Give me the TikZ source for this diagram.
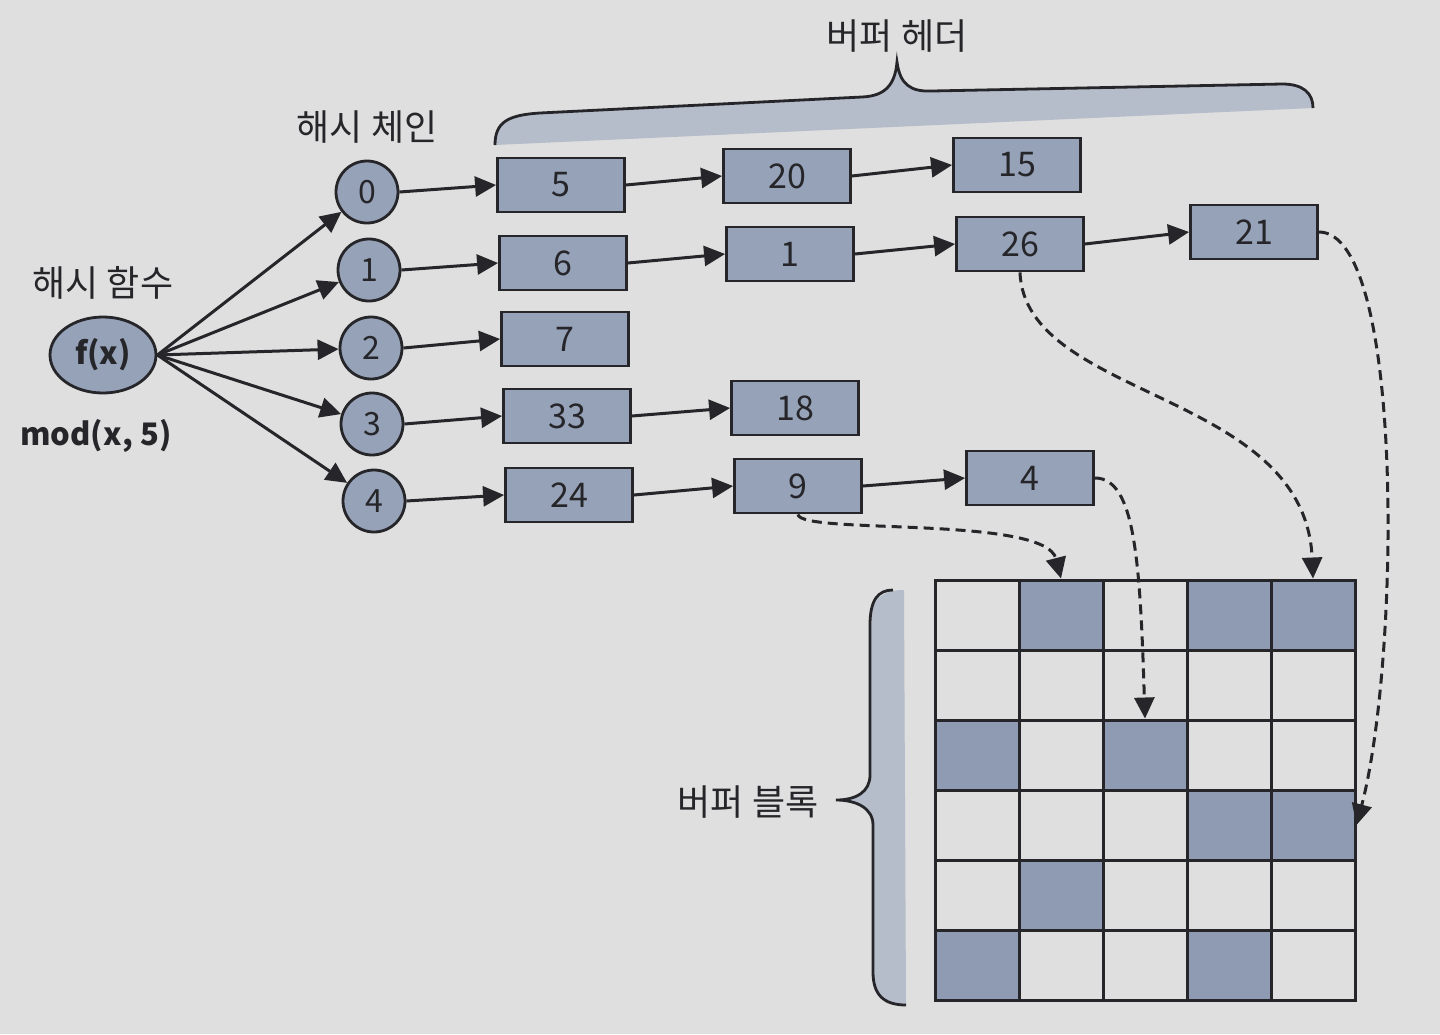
\documentclass[tikz,border=0pt]{standalone}
\usepackage{fontspec}
\setmainfont{Noto Sans CJK KR}
\usetikzlibrary{arrows.meta,shapes.geometric}
\definecolor{bg}{RGB}{222,223,222}
\definecolor{boxfill}{RGB}{150,162,183}
\definecolor{bracefill}{RGB}{182,189,202}
\definecolor{cellfill}{RGB}{142,155,179}
\definecolor{ink}{RGB}{38,38,42}
\begin{document}
\begin{tikzpicture}[x=0.5pt,y=-0.5pt,
  hbox/.style={draw=ink, line width=1.4pt, fill=boxfill, minimum width=63.5pt, minimum height=27pt, inner sep=0pt, text=ink, font=\fontsize{17}{20}\selectfont},
  slot/.style={circle, draw=ink, line width=1.4pt, fill=boxfill, minimum size=31pt, inner sep=0pt, text=ink, font=\fontsize{16}{19}\selectfont},
  arr/.style={-{Triangle[length=10.5pt,width=10pt]}, line width=1.5pt, draw=ink},
  darr/.style={arr, dash pattern=on 5pt off 3pt},
  lbl/.style={font=\fontsize{18}{22}\selectfont, text=ink, inner sep=0pt},
  cell/.style={draw=ink, line width=1.5pt, minimum width=42pt, minimum height=35pt, inner sep=0pt},
  shade/.style={cell, fill=cellfill}]
\fill[bg] (0,0) rectangle (1440,1034);
\useasboundingbox (0,0) rectangle (1440,1034);

% labels
\node[lbl] (lhf) at (103,283) {해시 함수};
\node[lbl] (lhc) at (367,127) {해시 체인};
\node[lbl] (lbb) at (748,802) {버퍼 블록};
\node[lbl] (lbh) at (897,36) {버퍼 헤더};
\node[lbl, font=\bfseries\fontsize{15.5}{18}\selectfont] (lmod) at (96,436) {mod(x, 5)};

% hash function
\node[ellipse, draw=ink, line width=1.4pt, fill=boxfill, minimum width=53pt, minimum height=38pt, inner sep=0pt, text=ink, font=\bfseries\fontsize{15.5}{18}\selectfont] (f) at (103,355) {f(x)};

% slots
\node[slot] (s0) at (367,192) {0};
\node[slot] (s1) at (369,270) {1};
\node[slot] (s2) at (371,348) {2};
\node[slot] (s3) at (372,424) {3};
\node[slot] (s4) at (374,501) {4};

% buffer headers
\node[hbox] (b5)  at (561,185) {5};
\node[hbox] (b20) at (787,176) {20};
\node[hbox] (b15) at (1017,165) {15};
\node[hbox] (b6)  at (563,263) {6};
\node[hbox] (b1)  at (790,254) {1};
\node[hbox] (b26) at (1020,244) {26};
\node[hbox] (b21) at (1254,232) {21};
\node[hbox] (b7)  at (565,339) {7};
\node[hbox] (b33) at (567,416) {33};
\node[hbox] (b18) at (795,408) {18};
\node[hbox] (b24) at (569,495) {24};
\node[hbox] (b9)  at (798,486) {9};
\node[hbox] (b4)  at (1030,478) {4};

% arrows from f
\foreach \s in {s0,s1,s2,s3,s4} \draw[arr] (f.east) -- (\s);

% chains
\draw[arr] (s0.east) -- (b5.west);
\draw[arr] (b5.east) -- (b20.west);
\draw[arr] (b20.east) -- (b15.west);
\draw[arr] (s1.east) -- (b6.west);
\draw[arr] (b6.east) -- (b1.west);
\draw[arr] (b1.east) -- (b26.west);
\draw[arr] (b26.east) -- (b21.west);
\draw[arr] (s2.east) -- (b7.west);
\draw[arr] (s3.east) -- (b33.west);
\draw[arr] (b33.east) -- (b18.west);
\draw[arr] (s4.east) -- (b24.west);
\draw[arr] (b24.east) -- (b9.west);
\draw[arr] (b9.east) -- (b4.west);

% top brace
\fill[bracefill] (495,145) .. controls (495,122) and (508,115) .. (540,113) -- (862,97) .. controls (885,96) and (895,85) .. (897,62) .. controls (900,84) and (910,92) .. (932,91) -- (1282,84) .. controls (1303,84) and (1313,93) .. (1313,108) -- cycle;
\draw[ink, line width=1.4pt] (495,145) .. controls (495,122) and (508,115) .. (540,113) -- (862,97) .. controls (885,96) and (895,85) .. (897,62) .. controls (900,84) and (910,92) .. (932,91) -- (1282,84) .. controls (1303,84) and (1313,93) .. (1313,108);

% left brace
\fill[bracefill] (904,590) .. controls (882,590) and (870,600) .. (870,625) -- (870,775) .. controls (870,792) and (856,800) .. (836,800) .. controls (856,800) and (873,808) .. (873,825) -- (873,972) .. controls (873,995) and (884,1005) .. (906,1005) -- cycle;
\draw[ink, line width=1.4pt] (893,590) .. controls (878,590) and (870,600) .. (870,625) -- (870,775) .. controls (870,792) and (856,800) .. (836,800) .. controls (856,800) and (873,808) .. (873,825) -- (873,972) .. controls (873,995) and (884,1005) .. (906,1005);

% grid
\foreach \r/\c/\st in {0/0/cell,0/1/shade,0/2/cell,0/3/shade,0/4/shade,
  1/0/cell,1/1/cell,1/2/cell,1/3/cell,1/4/cell,
  2/0/shade,2/1/cell,2/2/shade,2/3/cell,2/4/cell,
  3/0/cell,3/1/cell,3/2/cell,3/3/shade,3/4/shade,
  4/0/cell,4/1/shade,4/2/cell,4/3/cell,4/4/cell,
  5/0/shade,5/1/cell,5/2/cell,5/3/shade,5/4/cell}
  \node[\st] (c-\r-\c) at ({935+84*\c+42},{580+70*\r+35}) {};

% dashed pointers
\draw[darr] (b26.south) .. controls (1025,400) and (1305,390) .. (c-0-4.north);
\draw[darr] (b21.east) .. controls (1405,232) and (1400,660) .. (c-3-4.east);
\draw[darr] (b9.south) .. controls (800,535) and (1045,515) .. (c-0-1.north);
\draw[darr] (b4.east) .. controls (1135,478) and (1140,560) .. (c-2-2.north);
\end{tikzpicture}
\end{document}
